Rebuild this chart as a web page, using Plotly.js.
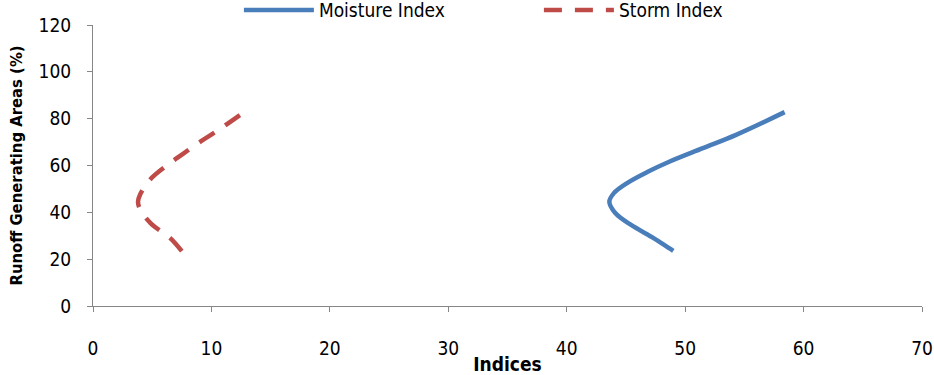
<!DOCTYPE html>
<html>
<head>
<meta charset="utf-8">
<script src="https://cdn.plot.ly/plotly-3.0.1.min.js"></script>
<style>html,body{margin:0;padding:0;background:#fff}#chart{width:934px;height:375px}</style>
</head>
<body>
<div id="chart"></div>
<script>
const seriesNames = ["Moisture Index", "Storm Index"];
const moistureX = [49.0, 48.2, 47.3, 45.4, 44.1, 43.6, 44.0, 45.1, 46.8, 48.7, 51.5, 54.3, 58.4];
const moistureY = [23.5, 26.2, 29.1, 34.7, 39.7, 44.5, 48.3, 52.5, 57.2, 61.7, 67.4, 73.1, 82.8];
const stormX = [7.5, 6.5, 4.9, 4.0, 3.8, 4.0, 4.8, 6.3, 7.6, 9.1, 10.4, 12.7];
const stormY = [23.4, 29.1, 35.2, 41.1, 44.5, 47.8, 53.9, 60.3, 65.0, 70.3, 74.5, 82.6];
const xTitle = "Indices";
const yTitle = "Runoff Generating Areas (%)";

const FONT = "Liberation Sans Narrow, DejaVu Sans Condensed, Liberation Sans, sans-serif";
const traces = [
  {x: moistureX, y: moistureY, name: seriesNames[0], mode: "lines",
   line: {color: "#4A7EBB", width: 4.5, shape: "spline", smoothing: 1}},
  {x: stormX, y: stormY, name: seriesNames[1], mode: "lines",
   line: {color: "#BE4B48", width: 4.5, shape: "spline", smoothing: 1, dash: "18px,13px"}}
];
const axisCommon = {
  showgrid: false, zeroline: false, showline: true, linecolor: "#868686", linewidth: 1,
  ticks: "outside", ticklen: 5, tickcolor: "#868686", tickwidth: 1,
  tickfont: {family: FONT, size: 19, color: "#000"}, ticklabeloverflow: "allow"
};
const layout = {
  width: 934, height: 375,
  margin: {l: 93, r: 12, t: 25, b: 68.5, autoexpand: false},
  paper_bgcolor: "#fff", plot_bgcolor: "#fff",
  font: {family: FONT, color: "#000"},
  showlegend: true,
  legend: {orientation: "h", x: 0.176, xanchor: "left", y: 0.973, yref: "container", yanchor: "middle",
           font: {family: FONT, size: 19, color: "#000"}, itemwidth: 70, entrywidth: 215,
           bgcolor: "rgba(0,0,0,0)"},
  xaxis: Object.assign({}, axisCommon, {range: [0, 70], dtick: 10, tick0: 0, ticklabelstandoff: 20,
     title: {text: "<b>" + xTitle + "</b>", font: {family: FONT, size: 19, color: "#000"}, standoff: 6}}),
  yaxis: Object.assign({}, axisCommon, {range: [0, 120], dtick: 20, tick0: 0, ticklabelstandoff: 12,
     title: {text: "<b>" + yTitle + "</b>", font: {family: FONT, size: 16.5, color: "#000"}, standoff: 11}})
};
Plotly.newPlot("chart", traces, layout, {staticPlot: true});
</script>
</body>
</html>
